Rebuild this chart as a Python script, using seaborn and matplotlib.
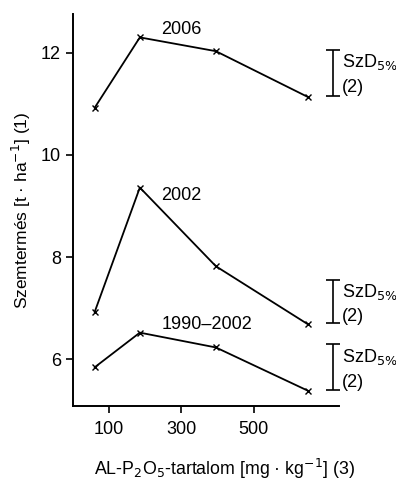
import matplotlib
matplotlib.use("Agg")
import matplotlib.pyplot as plt
import seaborn as sns
import pandas as pd

# Data
p_levels = [60, 185, 395, 650]
yield_2006 = [10.92, 12.30, 12.03, 11.13]
yield_2002 = [6.92, 9.36, 7.82, 6.68]
yield_1990_2002 = [5.84, 6.52, 6.23, 5.38]
series_names = ["2006", "2002", "1990–2002"]
label_pos_x = [244, 244, 244]
label_pos_y = [12.45, 9.21, 6.67]
lsd_low = [11.16, 6.70, 5.39]
lsd_high = [12.06, 7.55, 6.29]

rows = []
for name, vals in zip(series_names, [yield_2006, yield_2002, yield_1990_2002]):
    for x, y in zip(p_levels, vals):
        rows.append({"P": x, "Yield": y, "Series": name})
df = pd.DataFrame(rows)

sns.set_style("ticks")
plt.rcParams["font.family"] = ["Liberation Sans", "DejaVu Sans"]
plt.rcParams["text.color"] = "black"
plt.rcParams["axes.labelcolor"] = "black"

fig = plt.figure(figsize=(3.96, 4.79), dpi=100)
ax = fig.add_axes([0.184, 0.152, 0.672, 0.819])

sns.lineplot(data=df, x="P", y="Yield", units="Series", estimator=None,
             color="black", lw=1.3, marker="x", markersize=4,
             markeredgewidth=1.0, markeredgecolor="black", ax=ax, legend=False)

for name, lx, ly in zip(series_names, label_pos_x, label_pos_y):
    ax.text(lx, ly, name, ha="left", va="center", fontsize=13, color="black")

bar_x = 719
for lo, hi in zip(lsd_low, lsd_high):
    mid = (lo + hi) / 2
    ax.errorbar([bar_x], [mid], yerr=[[mid - lo], [hi - mid]],
                fmt="none", ecolor="black", elinewidth=1.2, capsize=5,
                capthick=1.2, clip_on=False)
    span = hi - lo
    ax.text(bar_x + 24, hi - 0.27 * span, "SzD$_{5\\%}$", ha="left",
            va="center", fontsize=13, color="black", clip_on=False)
    ax.text(bar_x + 24, lo + 0.17 * span, "(2)", ha="left",
            va="center", fontsize=13, color="black", clip_on=False)

ax.set_xlim(0, 735)
ax.set_ylim(5.08, 12.76)
ax.set_xticks([100, 300, 500])
ax.set_yticks([6, 8, 10, 12])
ax.tick_params(axis="both", labelsize=13, length=5, width=1.2, direction="out",
               colors="black", labelcolor="black")
ax.tick_params(axis="x", pad=6)
for s in ["top", "right"]:
    ax.spines[s].set_visible(False)
for s in ["left", "bottom"]:
    ax.spines[s].set_linewidth(1.4)
    ax.spines[s].set_color("black")

ax.set_xlabel("AL-P$_2$O$_5$-tartalom [mg · kg$^{-1}$] (3)", fontsize=12.8)
ax.xaxis.set_label_coords(0.568, -0.128)
ax.set_ylabel("Szemtermés [t · ha$^{-1}$] (1)", fontsize=12.5, labelpad=6)

fig.savefig("out.png", dpi=100)
